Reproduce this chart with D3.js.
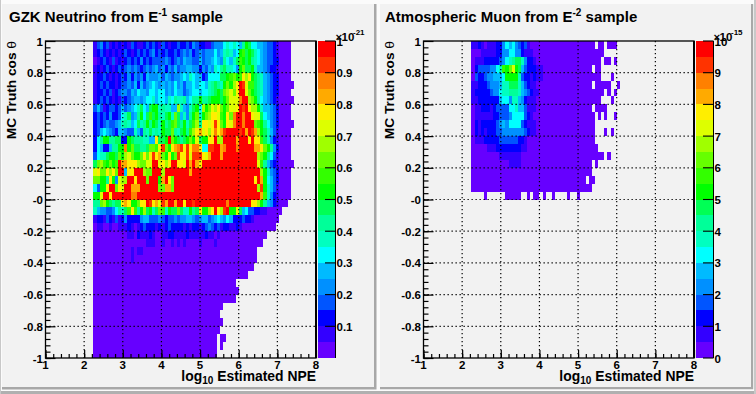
<!DOCTYPE html>
<html><head><meta charset="utf-8">
<script src="https://cdn.jsdelivr.net/npm/d3@7"></script>
<style>html,body{margin:0;padding:0;background:#fff}svg{display:block}text{font-family:"Liberation Sans",Arial,sans-serif;font-weight:bold;fill:#000}</style>
</head><body><svg id="c" width="756" height="394"></svg>
<script>
// colour bands of the palette, low to high (20 contours)
const bandColors=["#6600ff","#3300ff","#0000ff","#0055ff","#0090ff","#00bbff","#00ffff","#00ffc0","#00ff99","#00ff55","#00ff00","#33ff00","#66ff00","#a0ff00","#ddff00","#ffee00","#ffaa00","#ff8000","#ff3300","#ff0000"];
const bandCode="0123456789abcdefghij";
const xBinStart=2.24, xBinWidth=0.08, yBinWidth=0.05;
const xTicks=[1,2,3,4,5,6,7,8];
const yTicks=[1,0.8,0.6,0.4,0.2,0,-0.2,-0.4,-0.6,-0.8,-1];
const yTickLabels=["1","0.8","0.6","0.4","0.2","-0","-0.2","-0.4","-0.6","-0.8","-1"];
const zTicksLeft=["0.1","0.2","0.3","0.4","0.5","0.6","0.7","0.8","0.9","1"];
const zTicksRight=["0","1","2","3","4","5","6","7","8","9","10"];
// rows: top (cos 1) to bottom (cos -1); one band code per bin; "." = empty
const gzkRows=[
"1342312121 2132112323 2132122322 3243221134 446767658a 9665543321 0000",
"1232121212 3212323234 2323223234 3423434446 4578756ab9 a976543321 0000",
"0123213121 2323242323 3334323435 4433534456 5486579ba9 a876543322 0000",
"1212321232 3434323434 5342435344 5544243547 6897764ac9 9a75543221 0000",
"1223212123 2424342544 4535434456 5765523666 699abcabfd fa98754322 0000",
"1232322123 3435253456 5454546453 5565665789 87acadfjie bb98754322 00000",
"1223231234 4354655466 5664546553 4566566789 a9cdecfjje ca98754322 0000",
"1232321213 2345545667 5665768778 5688a889aa a9aceeehjj dca8654321 00000",
"3531233235 345679659a a787755d75 479a6daced fcaceefjij fdda755432 0000",
"2323242236 79458a69b9 a879a7c957 48ac7acdff ebafchjjhj jfee965432 0000",
"2323433457 8756978a8a 97a89bc98a 79bd8ffefi fcafehjjhj jjcba86432 00000",
"2356543255 4337538797 87a99c879a 8bdfgefdfh fgijjjjijg jigda97531 0000",
"268aa88992 2a98887755 f99ajca989 acae9aaffj ddjjjjgjjj fjffb97421 0000",
"26522588aa hac99889cc bficafghif ifhhf66iij jghjjjhjjj jjggfca842 0000",
"3677 9aa9ca dec aacfcfi fgcafaciff ieiiifegjj jgjjjjjjjj jjjdca8631 0000",
"9cdbacabjg gfffdcceej jefdfjjffe jgjgfjjjjj jjjjjjjjjj jjjeb85321 00000",
"efccfdfcjj 5ffjjjdccj jjdjjjjjjj jgjjjjjjjj jjjjjjjjjj jjjjda7432 0000",
"ccaa8fa4ed djjfjjjcjj jagjfcjjjj jjjjjjjjjj jjjjjjjjjj jjfjga6532 0000",
"63aafjjcfe jjgggjjjjj jccggcjjjj jjjjjjjjjj jjjjjjjjjj jjjdia7531 0000",
"aaejjfjjjj jjhhjjjjjj jjjjjjjjjj jjjjjjjjjj jjjjjjjjjj jjjjgb7421 0000",
"88cda9899f gfaacffjif geigjjgjjf jjijjjjjjj jjjhjjjjjj jffda85421 000",
"7544334687 9bfb8ad9a7 9cb7a99c97 7a89faadfj fdijaae956 3322110000 0",
"1221321312 4222245533 3432334344 5543455345 6546522232 2100000000",
"0110010011 1210123222 1212322221 2122123432 3122112100 000000000",
"0000000000 0110211121 0011221111 2111112110 1000000000 000000",
"0000000000 0000000111 0010010101 0000100001 0000000000 00000",
"0000000000 0010110000 0000000000 0000000000 0000000000 000",
"0000000000 0010000000 0000000000 0000000000 0000000000 000",
"0000000000 0000000000 0000000000 0000000000 0000000000 00",
"0000000000 0000000000 0000000000 0000000000 0000000000",
"0000000000 0000000000 0000000000 0000000000 000000",
"0000000000 0000000000 0000000000 0000000000 0000000",
"0000000000 0000000000 0000000000 0000000000 000000",
"0000000000 0000000000 0000000000 0000000000 00",
"0000000000 0000000000 0000000000 0000000000 0",
"0000000000 0000000000 0000000000 0000000000 00",
"0000000000 0000000000 0000000000 0000000000 0",
"0000000000 0000000000 0000000000 0000000000 .00",
"0000000000 0000000000 0000000000 0000000000 .0",
"0000000000 0000000000 0000000000 0000000000"
];
const muonRows=[
"1121011122 4656432310 0000000000 0000000000 .00.000",
"0001111122 4466442111 0000000000 0000000000 000",
"0111222223 4678997422 1000000000 0000000000 00.00.0",
"0233334467 bacea95322 2110000000 000000000. 00",
"0322344555 6aaaa73221 2110000000 0000000000 00...0",
"1122234445 77999753211 000000000 000000000. 00000..0",
"1222223446 77888754321 100000000 0000000000 000.0.0",
"1122222225 66477542111 000000000 0000000000 00...0",
"0112221233 33667553111 000000000 000000000. 0000",
"0111111223 33466663210 000000000 0000000000 .0.0..0",
"0212222234 5466663211 1000000000 0000000000",
"0212122233 4444444321 1000000000 0000000000 ...0.0",
"0111222223 3333322100 0000000000 0000000000",
"0000011122 2222221100 0000000000 0000000000 0",
"0000000001 1111110000 0000000000 0000000000 000.0",
"0000000000 0011110000 0000000000 000000000. 0",
"0000000000 0000000000 0000000000 000000000",
"0000000000 0000000000 0000000000 0000000.00",
"0000000000 0000000000 0000000000 000000000",
"....0..... .00000..0. 00.0..0... .0..0"
];

const svg=d3.select("#c");
const plotX=d3.scaleLinear().domain([1,8]).range([45.5,316]);
const plotY=d3.scaleLinear().domain([-1,1]).range([358,41]);
const band=d3.scaleOrdinal().domain(d3.range(20)).range(bandColors);

// page frame
svg.append("rect").attr("width",756).attr("height",394).attr("fill","#fbfbfb");
svg.append("rect").attr("y",391).attr("width",756).attr("height",3).attr("fill","#b0b0b0");
svg.append("rect").attr("x",754).attr("width",2).attr("height",394).attr("fill","#c8c8c8");
svg.append("rect").attr("width",1).attr("height",394).attr("fill","#c8c8c8");

function panel(offset,x0,x1,title,sup,titleX,rows,zLabels,zExp,borderW){
  const g=svg.append("g").attr("transform",`translate(${offset},0)`);
  g.append("rect").attr("x",x0).attr("y",4).attr("width",x1-x0).attr("height",383).attr("fill","#f2f2f2");
  g.append("path").attr("d",`M${x1+borderW/2} 4V${387+borderW/2}H${x0}`).attr("fill","none").attr("stroke","#a8a8a8").attr("stroke-width",borderW);

  // cells
  const cells=[];
  rows.forEach((row,r)=>{
    row.replace(/ /g,"").split("").forEach((ch,c)=>{
      if(ch!==".")cells.push({r,c,v:bandCode.indexOf(ch)});
    });
  });
  g.append("g").attr("shape-rendering","crispEdges").selectAll("rect").data(cells).join("rect")
    .attr("x",d=>plotX(xBinStart+d.c*xBinWidth))
    .attr("width",d=>plotX(xBinStart+(d.c+1)*xBinWidth)-plotX(xBinStart+d.c*xBinWidth))
    .attr("y",d=>plotY(1-d.r*yBinWidth))
    .attr("height",d=>plotY(1-(d.r+1)*yBinWidth)-plotY(1-d.r*yBinWidth))
    .attr("fill",d=>band(d.v));

  // grid
  const grid=g.append("g").attr("stroke","#000").attr("stroke-width",1.2).attr("stroke-dasharray","1.3 2.7");
  xTicks.slice(1,-1).forEach(t=>grid.append("line").attr("x1",plotX(t)).attr("x2",plotX(t)).attr("y1",41).attr("y2",358));
  yTicks.slice(1,-1).forEach(t=>grid.append("line").attr("x1",45.5).attr("x2",316).attr("y1",plotY(t)).attr("y2",plotY(t)));

  // axes
  const xMinor=d3.range(0,35).map(i=>1+i*0.2);
  const yMinor=d3.range(0,50).map(i=>-1+i*0.04);
  const mk=(a)=>a.call(s=>s.select(".domain").remove());
  g.append("g").attr("transform","translate(0,358)").call(d3.axisTop(plotX).tickValues(xMinor).tickSize(4).tickFormat("")).call(mk);
  g.append("g").attr("transform","translate(45.5,0)").call(d3.axisRight(plotY).tickValues(yMinor).tickSize(5).tickFormat("")).call(mk);
  g.append("g").attr("transform","translate(0,358)").call(d3.axisTop(plotX).tickValues(xTicks).tickSize(8).tickFormat("")).call(mk);
  g.append("g").attr("transform","translate(45.5,0)").call(d3.axisRight(plotY).tickValues(yTicks).tickSize(10).tickFormat("")).call(mk);
  g.selectAll("g.tick line").attr("stroke-width",1.2);
  // x labels
  g.append("g").selectAll("text").data(xTicks).join("text").attr("x",d=>plotX(d)).attr("y",368.5)
    .attr("text-anchor","middle").attr("font-size",11.5).text(d=>d);
  g.append("g").selectAll("text").data(yTicks).join("text").attr("x",43).attr("y",d=>plotY(d)+4.5)
    .attr("text-anchor","end").attr("font-size",11.5).text((d,i)=>yTickLabels[i]);
  // frame
  g.append("rect").attr("x",45.5).attr("y",41).attr("width",270.5).attr("height",317).attr("fill","none").attr("stroke","#000").attr("stroke-width",1.3);
  g.append("line").attr("x1",316).attr("x2",316).attr("y1",41).attr("y2",358).attr("stroke","#000").attr("stroke-width",2);

  // colour bar
  const barY=d3.scaleLinear().domain([0,20]).range([358,41]);
  g.append("g").attr("shape-rendering","crispEdges").selectAll("rect").data(d3.range(20)).join("rect")
    .attr("x",318).attr("width",17.5).attr("y",d=>barY(d+1)).attr("height",d=>barY(d)-barY(d+1)).attr("fill",d=>band(d));
  g.append("line").attr("x1",335.5).attr("x2",335.5).attr("y1",41).attr("y2",358).attr("stroke","#000");
  const zPos=i=>zLabels[0]==="0"?barY(i*2):barY((i+1)*2);
  g.append("g").selectAll("line").data(zLabels).join("line").attr("x1",325).attr("x2",335.5)
    .attr("y1",(d,i)=>zPos(i)).attr("y2",(d,i)=>zPos(i)).attr("stroke","#000").attr("stroke-width",1.1);
  g.append("g").selectAll("text").data(zLabels).join("text").attr("x",336.5).attr("y",(d,i)=>zPos(i)+4.5)
    .attr("font-size",11.5).text(d=>d);
  g.append("text").attr("x",335.5).attr("y",40.5).attr("font-size",11.5).text("\u00d7");
  g.append("text").attr("x",341.5).attr("y",40.5).attr("font-size",11.5).text("10");
  g.append("text").attr("x",353).attr("y",35).attr("font-size",8).text(zExp);

  // title
  const t=g.append("text").attr("x",titleX).attr("y",22).attr("font-size",15);
  t.append("tspan").text(title[0]);
  t.append("tspan").attr("dy",-6).attr("font-size",10).text(sup);
  t.append("tspan").attr("dy",6).text(title[1]);

  // axis titles
  const xt=g.append("text").attr("x",316).attr("y",380.5).attr("text-anchor","end").attr("font-size",13.9);
  xt.append("tspan").text("log");
  xt.append("tspan").attr("dy",3.5).attr("font-size",10).text("10");
  xt.append("tspan").attr("dy",-3.5).text(" Estimated NPE");
  const yt=g.append("text").attr("transform","translate(15.5,41) rotate(-90)").attr("text-anchor","end").attr("font-size",13.7);
  yt.append("tspan").text("MC Truth cos ");
  yt.append("tspan").style("font-weight","normal").text("\u03b8");
}
panel(0,2,374,["GZK Neutrino from E"," sample"],"-1",9,gzkRows,zTicksLeft,"-21",2.5);
panel(378,2,373,["Atmospheric Muon from E"," sample"],"-2",7,muonRows,zTicksRight,"-15",2.2);
</script></body></html>
